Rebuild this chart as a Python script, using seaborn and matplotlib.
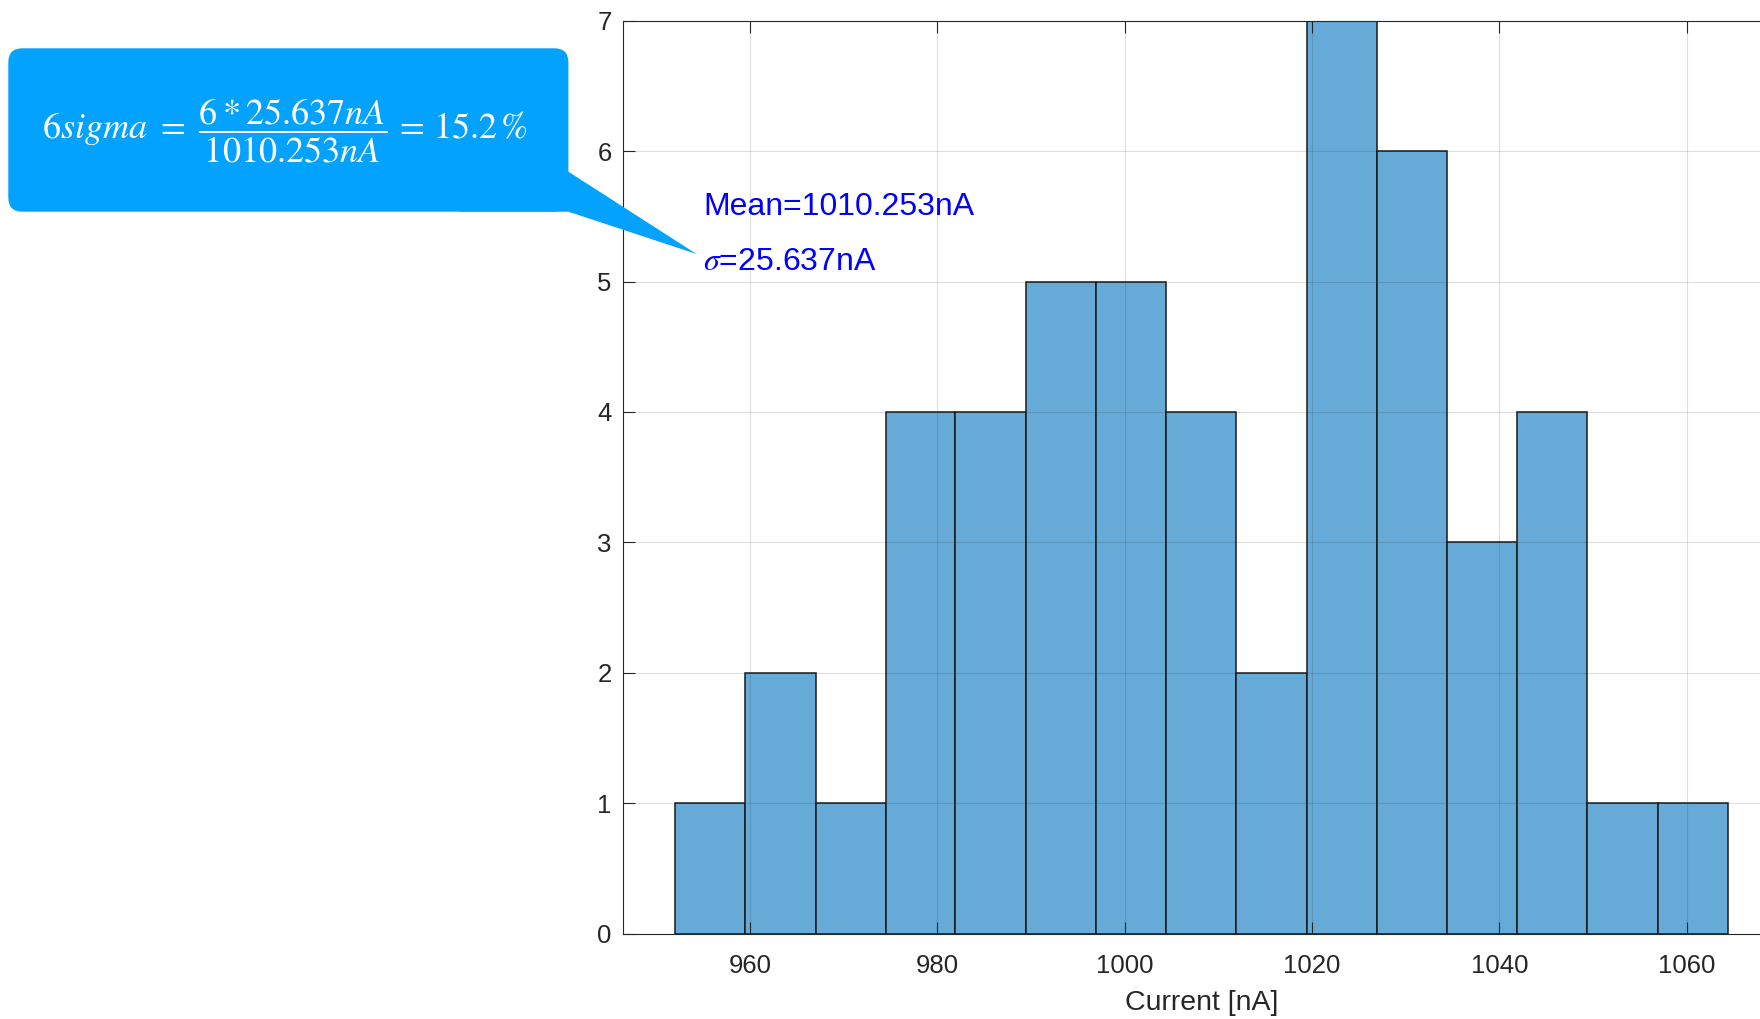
import numpy as np
import seaborn as sns
import matplotlib.pyplot as plt
from matplotlib.patches import FancyBboxPatch, Polygon

# histogram
bin_edges = [952.0, 959.5, 967.0, 974.5, 981.9, 989.4, 996.9, 1004.4, 1011.9,
             1019.4, 1026.9, 1034.4, 1041.9, 1049.4, 1056.9, 1064.4]
counts = [1, 2, 1, 4, 4, 5, 5, 4, 2, 7, 6, 3, 4, 1, 1]

x_ticks = [960, 980, 1000, 1020, 1040, 1060]
y_ticks = [0, 1, 2, 3, 4, 5, 6, 7]

mean_txt = 'Mean=1010.253nA'
sigma_txt = r'$\sigma$=25.637nA'
bubble_txt = r'$6sigma\ =\ \dfrac{6*25.637nA}{1010.253nA}\,=\,15.2\,\%$'

plt.rcParams['font.family'] = ['Liberation Sans', 'DejaVu Sans']
plt.rcParams['mathtext.fontset'] = 'stix'

W, H = 1760, 1019
fig = plt.figure(figsize=(W / 100, H / 100), dpi=100)

# axes runs off the right edge of the figure, like the reference
left_px, top_px, bottom_px = 622.8, 20.7, 933.5
x_left, x_right = 946.4, 1070
px_per_na = 9.366
right_px = left_px + (x_right - x_left) * px_per_na
ax = fig.add_axes([left_px / W, 1 - bottom_px / H,
                   (right_px - left_px) / W, (bottom_px - top_px) / H])

centers = [(a + b) / 2 for a, b in zip(bin_edges[:-1], bin_edges[1:])]
sns.histplot(x=centers, weights=counts, bins=bin_edges, ax=ax,
             color='#66AAD7', alpha=1, edgecolor='#1a1a1a', linewidth=1.1)

ax.set_xlim(x_left, x_right)
ax.set_ylim(0, 7)
ax.set_xticks(x_ticks)
ax.set_yticks(y_ticks)
ax.set_ylabel('')
ax.set_xlabel('Current [nA]', fontsize=20.5, color='#262626', labelpad=9)

axcol = '#262626'
for s in ax.spines.values():
    s.set_color(axcol)
    s.set_linewidth(0.8)
ax.set_axisbelow(False)
ax.grid(True, color=axcol, alpha=0.15, linewidth=0.8)
ax.tick_params(direction='in', top=True, right=True, length=8.6, width=0.8,
               color=axcol, labelcolor=axcol, labelsize=18.5)
ax.tick_params(axis='x', pad=14.5)
ax.tick_params(axis='y', pad=8)

ax.text(955.0, 5.51, mean_txt, color='#0000FF', fontsize=23, va='baseline')
ax.text(955.0, 5.09, sigma_txt, color='#0000FF', fontsize=23, va='baseline')

# callout bubble (figure pixel coords -> figure fraction)
def fp(x, y):
    return (x / W, 1 - y / H)

bcol = '#02A2FE'
bx0, by0, bx1, by1 = 8.3, 48.3, 568.4, 211.7
body = FancyBboxPatch(fp(bx0, by1), (bx1 - bx0) / W, (by1 - by0) / H,
                      boxstyle='round,pad=0,rounding_size=0.008',
                      transform=fig.transFigure, facecolor=bcol,
                      edgecolor='none', zorder=5, mutation_aspect=W / H)
fig.patches.append(body)
tail = Polygon([fp(459, 211.7), fp(568.4, 171.7), fp(696.5, 254.0),
                fp(568.4, 211.7)], closed=True, transform=fig.transFigure,
               facecolor=bcol, edgecolor='none', zorder=5)
fig.patches.append(tail)
fig.text(*fp(285, 131), bubble_txt, color='white', fontsize=26,
         ha='center', va='center', zorder=6)

fig.savefig('out.png', dpi=100)
